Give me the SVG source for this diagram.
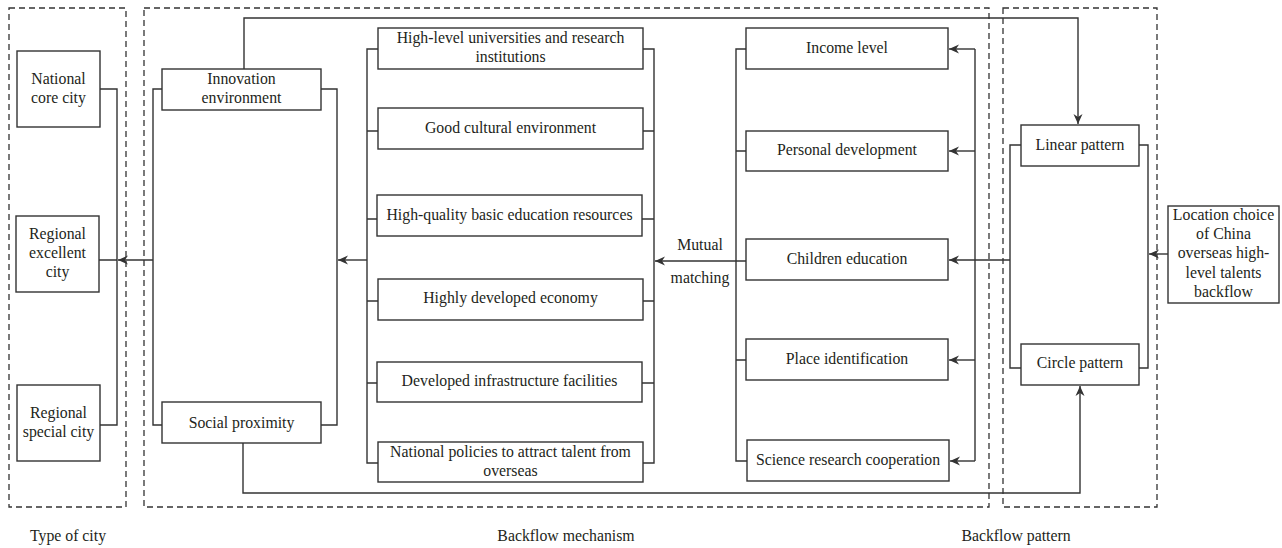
<svg xmlns="http://www.w3.org/2000/svg" width="1282" height="548" viewBox="0 0 1282 548">
<style>
.bg{fill:#ffffff}
.box{fill:#ffffff;stroke:#333333;stroke-width:1.4}
.dash{fill:none;stroke:#333333;stroke-width:1.3;stroke-dasharray:6 4}
.ln{fill:none;stroke:#333333;stroke-width:1.4}
.t{font-family:"Liberation Serif","Times New Roman",serif;font-size:15.8px;fill:#231f20;text-anchor:middle}
</style>
<defs>
<marker id="arr" markerUnits="userSpaceOnUse" markerWidth="12" markerHeight="10" refX="10" refY="5" orient="auto">
<path d="M0,0.5 L10,5 L0,9.5 L3,5 Z" fill="#333333"/>
</marker>
</defs>
<rect class="bg" x="0" y="0" width="1282" height="548"/>

<g id="regions">
<rect class="dash" x="9" y="8" width="117" height="499"/>
<rect class="dash" x="144" y="8" width="845" height="499"/>
<rect class="dash" x="1003" y="8" width="154" height="499"/>
<text class="t" x="68" y="541">Type of city</text>
<text class="t" x="566" y="541">Backflow mechanism</text>
<text class="t" x="1016" y="541">Backflow pattern</text>
</g>

<g id="connectors">
<path class="ln" d="M100,89 H117 V425 H100 M99,260 H117"/>
<path class="ln" d="M153,260 H118" marker-end="url(#arr)"/>
<path class="ln" d="M162,89 H153 V425 H162"/>
<path class="ln" d="M321,89 H337 V425 H321"/>
<path class="ln" d="M367,260 H338" marker-end="url(#arr)"/>
<path class="ln" d="M378,49 H367 V463 H378 M367,131 H378 M367,219 H377 M367,301 H378 M367,383 H378"/>
<path class="ln" d="M643,49 H654 V463 H643 M643,131 H654 M642,219 H654 M643,301 H654 M642,383 H654"/>
<path class="ln" d="M746,261 H655" marker-end="url(#arr)"/>
<path class="ln" d="M746,49 H736 V461 H747 M736,151 H746 M736,360 H746"/>
<path class="ln" d="M975,49 V461"/>
<path class="ln" d="M975,49 H949" marker-end="url(#arr)"/>
<path class="ln" d="M975,151 H949" marker-end="url(#arr)"/>
<path class="ln" d="M975,360 H949" marker-end="url(#arr)"/>
<path class="ln" d="M975,461 H950" marker-end="url(#arr)"/>
<path class="ln" d="M1010,260 H949" marker-end="url(#arr)"/>
<path class="ln" d="M1021,145 H1010 V368 H1021"/>
<path class="ln" d="M1139,145 H1148 V368 H1139"/>
<path class="ln" d="M1168,254 H1149" marker-end="url(#arr)"/>
<path class="ln" d="M244,69 V18 H1078 V124" marker-end="url(#arr)"/>
<path class="ln" d="M243,443 V493 H1080 V386" marker-end="url(#arr)"/>
<text class="t" x="700" y="250">Mutual</text>
<text class="t" x="700" y="283">matching</text>
</g>

<g id="national-core-city">
<rect class="box" x="17" y="51" width="83" height="76"/>
<text class="t" x="58.5" y="84">National</text>
<text class="t" x="58.5" y="103">core city</text>
</g>
<g id="regional-excellent-city">
<rect class="box" x="16" y="216" width="83" height="76"/>
<text class="t" x="57.5" y="239">Regional</text>
<text class="t" x="57.5" y="258">excellent</text>
<text class="t" x="57.5" y="277">city</text>
</g>
<g id="regional-special-city">
<rect class="box" x="17" y="385" width="83" height="76"/>
<text class="t" x="58.5" y="418">Regional</text>
<text class="t" x="58.5" y="437">special city</text>
</g>

<g id="innovation-environment">
<rect class="box" x="162" y="69" width="159" height="41"/>
<text class="t" x="241.5" y="84">Innovation</text>
<text class="t" x="241.5" y="103">environment</text>
</g>
<g id="social-proximity">
<rect class="box" x="162" y="402" width="159" height="41"/>
<text class="t" x="241.5" y="428">Social proximity</text>
</g>

<g id="universities">
<rect class="box" x="378" y="28" width="265" height="41"/>
<text class="t" x="510.5" y="43">High-level universities and research</text>
<text class="t" x="510.5" y="62">institutions</text>
</g>
<g id="cultural">
<rect class="box" x="378" y="108" width="265" height="41"/>
<text class="t" x="510.5" y="133">Good cultural environment</text>
</g>
<g id="education-resources">
<rect class="box" x="377" y="195" width="265" height="41"/>
<text class="t" x="509.5" y="220">High-quality basic education resources</text>
</g>
<g id="economy">
<rect class="box" x="378" y="279" width="265" height="41"/>
<text class="t" x="510.5" y="303">Highly developed economy</text>
</g>
<g id="infrastructure">
<rect class="box" x="377" y="362" width="265" height="40"/>
<text class="t" x="509.5" y="386">Developed infrastructure facilities</text>
</g>
<g id="policies">
<rect class="box" x="378" y="442" width="265" height="40"/>
<text class="t" x="510.5" y="457">National policies to attract talent from</text>
<text class="t" x="510.5" y="476">overseas</text>
</g>

<g id="income-level">
<rect class="box" x="746" y="28" width="202" height="41"/>
<text class="t" x="847" y="53">Income level</text>
</g>
<g id="personal-development">
<rect class="box" x="746" y="131" width="202" height="40"/>
<text class="t" x="847" y="155">Personal development</text>
</g>
<g id="children-education">
<rect class="box" x="746" y="239" width="202" height="41"/>
<text class="t" x="847" y="264">Children education</text>
</g>
<g id="place-identification">
<rect class="box" x="746" y="339" width="202" height="41"/>
<text class="t" x="847" y="364">Place identification</text>
</g>
<g id="science-research">
<rect class="box" x="747" y="440" width="202" height="41"/>
<text class="t" x="848" y="465">Science research cooperation</text>
</g>

<g id="linear-pattern">
<rect class="box" x="1021" y="125" width="118" height="41"/>
<text class="t" x="1080" y="150">Linear pattern</text>
</g>
<g id="circle-pattern">
<rect class="box" x="1021" y="344" width="118" height="41"/>
<text class="t" x="1080" y="368">Circle pattern</text>
</g>
<g id="location-choice">
<rect class="box" x="1168" y="206" width="111" height="97"/>
<text class="t" x="1223.5" y="220">Location choice</text>
<text class="t" x="1223.5" y="239">of China</text>
<text class="t" x="1223.5" y="258">overseas high-</text>
<text class="t" x="1223.5" y="278">level talents</text>
<text class="t" x="1223.5" y="297">backflow</text>
</g>
</svg>
